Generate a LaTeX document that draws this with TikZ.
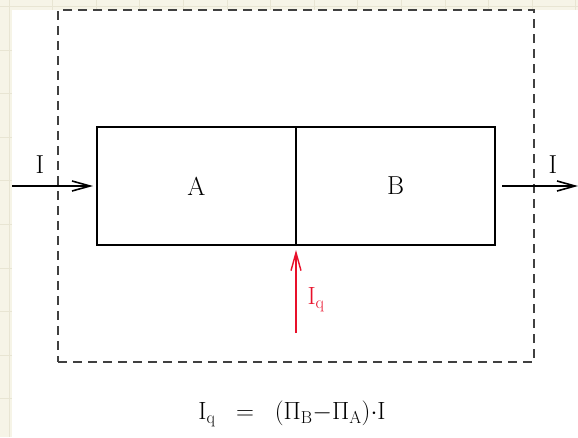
\documentclass[tikz,border=0pt]{standalone}
\usetikzlibrary{arrows.meta,positioning}

\definecolor{paper}{HTML}{F6F4E7}
\definecolor{gridc}{HTML}{E8E5D3}
\definecolor{flowred}{HTML}{E8102A}

\begin{document}
\begin{tikzpicture}[
  x=1pt, y=-1pt,
  font=\fontsize{26}{30}\selectfont,
  block/.style={draw, line width=1.6pt, outer sep=0pt, minimum width=199pt, minimum height=118pt},
  frame/.style={draw=black!75, line width=1.2pt, dash pattern=on 9pt off 6pt, minimum width=476pt, minimum height=352pt},
  line/.style={-{Straight Barb[length=18pt,width=10pt]}, line width=1.6pt},
  heat/.style={-{Straight Barb[length=18pt,width=10pt]}, line width=1.4pt, draw=flowred}
]
\useasboundingbox (0,0) rectangle (578,437);
% paper background
\fill[paper] (0,0) rectangle (578,437);
\foreach \g in {0,...,13} {
  \draw[gridc, line width=1pt] (9+43.6*\g,0) -- (9+43.6*\g,437);
}
\foreach \g in {0,...,9} {
  \draw[gridc, line width=1pt] (0,6.4+43.6*\g) -- (578,6.4+43.6*\g);
}
\fill[white] (12,10) rectangle (578,437);

\node[frame] (sys) at (296,186) {};
\node[block] (A) at (196.5,186) {A};
\node[block, right=0pt of A] (B) {B};

\coordinate (in) at (12,186);
\coordinate (out) at (578,186);
\coordinate (q) at (296,333);

\draw[line, shorten >=4pt] (in) -- (A);
\draw[line, shorten <=7pt] (B) -- (out);
\draw[heat, shorten >=5pt] (q) -- (A.south east);

\node (lin) at (40,165) {I};
\node (lout) at (553,165) {I};
\node[text=flowred, anchor=west] (lq) at (304,300) {$\mathrm{I_q}$};
\node (eq) at (292,414) {$\mathrm{I_q} \;\;=\;\; (\Pi_\mathrm{B}{-}\Pi_\mathrm{A}){\cdot}\mathrm{I}$};
\end{tikzpicture}
\end{document}
